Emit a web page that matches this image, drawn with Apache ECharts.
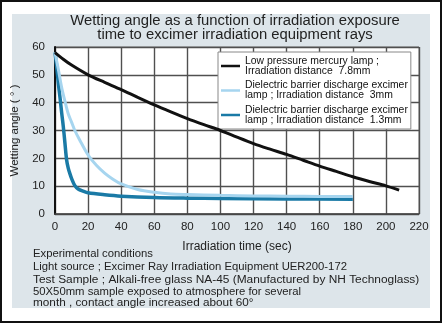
<!DOCTYPE html>
<html>
<head>
<meta charset="utf-8">
<script src="https://cdn.jsdelivr.net/npm/echarts@6/dist/echarts.min.js"></script>
<style>
  html, body { margin: 0; padding: 0; background: #ffffff; }
  #chart { width: 442px; height: 323px; }
</style>
</head>
<body>
<div id="chart"></div>
<script>
// Wetting angle (degrees) versus irradiation time (seconds)
const seriesNames = [
  'Low pressure mercury lamp ;\nIrradiation distance  7.8mm',
  'Dielectric barrier discharge excimer\nlamp ; Irradiation distance  3mm',
  'Dielectric barrier discharge excimer\nlamp ; Irradiation distance  1.3mm'
];

const mercury78 = [
  [0, 58], [5, 55.6], [10, 53.5], [20, 50], [30, 47.3], [40, 44.7], [50, 41.9],
  [60, 39.2], [70, 36.7], [80, 34.3], [90, 32.1], [100, 30], [110, 27.6],
  [120, 25.3], [130, 23.3], [140, 21.4], [150, 19.3], [160, 17.2], [170, 15.3],
  [180, 13.4], [190, 11.7], [200, 10.1], [208, 8.6]
];

const excimer3 = [
  [0, 58], [2, 52], [4, 45.5], [6, 40.5], [8, 36], [10, 33], [12, 30],
  [15, 26.5], [20, 21.2], [25, 17.5], [30, 14.7], [35, 12.5], [40, 10.8],
  [50, 8.8], [60, 7.8], [70, 7.2], [80, 7], [100, 6.7], [120, 6.5],
  [140, 6.4], [160, 6.3], [180, 6.3]
];

const excimer13 = [
  [0, 58], [1, 53], [2, 47], [3, 42], [4, 36.5], [5, 31.5], [6, 25.5],
  [7, 19.5], [8, 16.5], [9, 14.5], [10, 12.8], [12, 10.2], [14, 9],
  [17, 8.2], [20, 7.6], [30, 6.9], [40, 6.4], [60, 5.9], [80, 5.7],
  [100, 5.6], [140, 5.4], [180, 5.3]
];

const xTicks = [0, 20, 40, 60, 80, 100, 120, 140, 160, 180, 200, 220];
const yTicks = [0, 10, 20, 30, 40, 50, 60];

const titleLines = [
  'Wetting angle as a function of irradiation exposure',
  'time to excimer irradiation equipment rays'
];
const noteLines = [
  'Experimental conditions',
  'Light source ; Excimer Ray Irradiation Equipment UER200-172',
  'Test Sample ; Alkali-free glass NA-45 (Manufactured by NH Technoglass)',
  '50X50mm sample exposed to atmosphere for several',
  'month , contact angle increased about 60°'
];

const FONT = '"Liberation Sans", Arial, Helvetica, sans-serif';
const colors = ['#111111', '#a6d5ef', '#1a7aa6'];
const widths = [3, 3, 3.5];

const chart = echarts.init(document.getElementById('chart'), null, { renderer: 'canvas' });

// per-line font size and horizontal stretch of the footnote block
const noteStyles = [
  { y: 254, size: 11.3, sx: 1.0 },
  { y: 267, size: 11.3, sx: 1.0 },
  { y: 280, size: 10, sx: 1.19 },
  { y: 291.5, size: 11.3, sx: 1.0 },
  { y: 303.5, size: 10.5, sx: 1.12 }
];

const graphics = [
  { type: 'rect', z: -10, shape: { x: 1, y: 1, width: 440, height: 321 },
    style: { fill: '#ffffff', stroke: '#111111', lineWidth: 2 } },
  { type: 'rect', z: -9, shape: { x: 12, y: 14, width: 418, height: 294 },
    style: { fill: '#dde5ea' } },
  { type: 'text', x: 235, y: 21.5, scaleX: 1.06, style: { text: titleLines[0], font: '14px ' + FONT,
      fill: '#222', align: 'center', verticalAlign: 'middle' } },
  { type: 'text', x: 235, y: 35, scaleX: 1.06, style: { text: titleLines[1], font: '14px ' + FONT,
      fill: '#222', align: 'center', verticalAlign: 'middle' } }
];
noteLines.forEach(function (t, i) {
  graphics.push({ type: 'text', x: 33, y: noteStyles[i].y, scaleX: noteStyles[i].sx,
    style: { text: t, font: noteStyles[i].size + 'px ' + FONT, fill: '#222',
             align: 'left', verticalAlign: 'middle' } });
});

const series = [mercury78, excimer3, excimer13].map(function (d, i) {
  return {
    name: seriesNames[i],
    type: 'line',
    data: d,
    smooth: 0.3,
    symbol: 'none',
    lineStyle: { color: colors[i], width: widths[i] },
    itemStyle: { color: colors[i] },
    z: 5 - i,
    animation: false
  };
});

chart.setOption({
  animation: false,
  backgroundColor: 'transparent',
  textStyle: { fontFamily: FONT },
  graphic: graphics,
  grid: { left: 55, top: 47, width: 364, height: 167, show: true,
          borderColor: '#777', borderWidth: 1, backgroundColor: '#ffffff' },
  legend: {
    data: seriesNames,
    orient: 'vertical',
    left: 218, top: 52,
    backgroundColor: '#ffffff',
    borderColor: '#888',
    borderWidth: 1,
    padding: [4, 3, 4, 3],
    icon: 'rect',
    itemWidth: 19, itemHeight: 2.5,
    itemGap: 4.5,
    textStyle: { fontSize: 10.4, lineHeight: 10, color: '#111', fontFamily: FONT }
  },
  xAxis: {
    type: 'value', min: 0, max: 220, interval: 20,
    name: 'Irradiation time (sec)', nameLocation: 'middle', nameGap: 27,
    nameTextStyle: { fontSize: 12, color: '#222' },
    axisLine: { show: true, lineStyle: { color: '#444', width: 1.5 } },
    axisTick: { show: false },
    axisLabel: { fontSize: 11.5, color: '#222', margin: 7 },
    splitLine: { show: true, lineStyle: { color: '#505050', width: 1.4 } }
  },
  yAxis: {
    type: 'value', min: 0, max: 60, interval: 10,
    name: 'Wetting angle ( ° )', nameLocation: 'middle', nameGap: 32,
    nameTextStyle: { fontSize: 11.5, color: '#222' },
    axisLine: { show: true, lineStyle: { color: '#111', width: 2 } },
    axisTick: { show: false },
    axisLabel: { fontSize: 11.5, color: '#222', margin: 10 },
    splitLine: { show: true, lineStyle: { color: '#505050', width: 1.4 } }
  },
  series: series
});
</script>
</body>
</html>
